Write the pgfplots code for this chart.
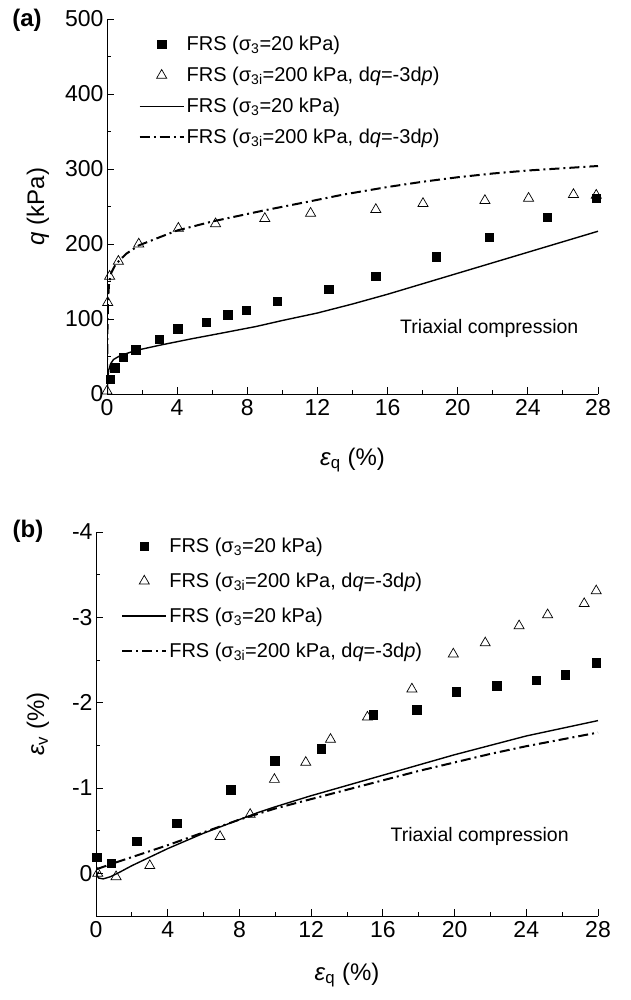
\documentclass[border=0pt]{standalone}
\usepackage{fontspec}
\setmainfont{Liberation Sans}
\usepackage{pgfplots}
\pgfplotsset{compat=1.18}
\begin{document}
\begin{tikzpicture}
\path[use as bounding box] (0pt,-1000pt) rectangle (630pt,0pt);
\pgfplotsset{
 common/.style={
   scale only axis, axis x line*=bottom, axis y line*=left,
   tick align=inside, major tick length=7pt, minor tick length=4pt,
   every tick/.style={black, line width=0.9pt},
   axis line style={line width=1pt},
   xmin=0,xmax=28, xtick={0,4,...,28}, minor x tick num=1,
   tick label style={font=\fontsize{23}{25}\selectfont},
   xticklabel style={yshift=-2pt},
   /pgf/number format/assume math mode=true,
   legend cell align=left,
   legend style={draw=none, fill=none, font=\fontsize{20}{22}\selectfont, anchor=north west},
   legend image code/.code={\draw[mark repeat=2,mark phase=2,##1] plot coordinates {(0pt,0pt) (22pt,0pt) (44pt,0pt)};},
 },
 sq/.style={only marks, mark=square*, mark size=4.2pt, black},
 tri/.style={only marks, mark=triangle, mark size=5.8pt, black, mark options={line width=0.7pt}},
 sol/.style={no marks, black, line width=1.4pt},
 dd/.style={no marks, black, line width=2pt, dash pattern=on 10pt off 4pt on 2pt off 4pt},
}
% ---------- panel (a)
\begin{axis}[common, at={(107pt,-394pt)}, anchor=south west,
  width=491pt, height=375pt,
  ymin=0, ymax=500, ytick={0,100,...,500}, minor y tick num=1,
  xlabel={\textit{ε}\textsubscript{q} (\%)},
  ylabel={\textit{q} (kPa)},
  every axis x label/.style={at={(axis description cs:0.5,-0.176)}, anchor=center, font=\fontsize{24}{26}\selectfont},
  every axis y label/.style={at={(axis description cs:-0.1405,0.5)}, anchor=center, rotate=90, font=\fontsize{24}{26}\selectfont},
  legend style={at={(axis description cs:0.058,0.965)}, row sep=11pt},
]
\addplot[sq] coordinates {
(0.19,19.5) (0.43,35) (0.93,49) (1.63,59) (2.96,73) (4.04,87) (5.67,96) (6.89,106)
(7.93,112) (9.69,124) (12.65,140) (15.33,157) (18.78,183) (21.8,209) (25.1,236) (27.9,261)};
\addlegendentry{FRS (σ\textsubscript{3}=20 kPa)}
\addplot[tri] coordinates {
(0.0,4) (0.04,122) (0.15,157) (0.65,177) (1.81,200) (4.07,221) (6.19,227) (9.0,234)
(11.61,241) (15.33,246) (18.02,254) (21.55,258) (24.04,261) (26.6,266) (27.9,265)};
\addlegendentry{FRS (σ\textsubscript{3i}=200 kPa, d\textit{q}=-3d\textit{p})}
\addplot[sol] coordinates {
(0,0) (0.02,10) (0.05,22) (0.1,32) (0.2,40) (0.37,46) (0.74,51) (1.63,58) (3,65)
(4.8,73.5) (6.5,81) (8.5,90) (10,98) (12,108) (14,120) (16,133) (18,147) (20,161)
(22,175) (24,189) (26,203) (28,217)};
\addlegendentry{FRS (σ\textsubscript{3}=20 kPa)}
\addplot[dd] coordinates {
(0,0) (0.01,40) (0.03,90) (0.06,125) (0.12,148) (0.25,162) (0.45,171) (0.7,178)
(1.1,187) (1.8,198) (3,209) (4,218) (6,230) (9,245) (11.6,257) (13.5,266) (16,276)
(18,283) (20,289) (22,294) (24,298) (26,301) (28,304)};
\addlegendentry{FRS (σ\textsubscript{3i}=200 kPa, d\textit{q}=-3d\textit{p})}
\node[font=\fontsize{19.5}{21}\selectfont] at (axis cs:21.8,87) {Triaxial compression};
\end{axis}
% ---------- panel (b)
\begin{axis}[common, at={(96pt,-916pt)}, anchor=south west,
  width=502pt, height=384pt,
  y dir=reverse, ymin=-4, ymax=0.5, ytick={-4,-3,-2,-1,0}, yticklabels={-4,-3,-2,-1,0},
  minor y tick num=1,
  xlabel={\textit{ε}\textsubscript{q} (\%)},
  ylabel={\textit{ε}\textsubscript{v} (\%)},
  every axis x label/.style={at={(axis description cs:0.5,-0.154)}, anchor=center, font=\fontsize{24}{26}\selectfont},
  every axis y label/.style={at={(axis description cs:-0.1155,0.5)}, anchor=center, rotate=90, font=\fontsize{24}{26}\selectfont},
  legend style={at={(axis description cs:0.044,0.995)}, row sep=15pt},
]
\addplot[sq] coordinates {
(0.05,-0.19) (0.85,-0.12) (2.28,-0.38) (4.5,-0.59) (7.52,-0.98) (9.96,-1.32) (12.55,-1.46)
(15.46,-1.86) (17.89,-1.92) (20.09,-2.13) (22.34,-2.20) (24.56,-2.26) (26.18,-2.33) (27.9,-2.47)};
\addlegendentry{FRS (σ\textsubscript{3}=20 kPa)}
\addplot[tri] coordinates {
(0.1,0.0) (1.12,0.04) (3.0,-0.09) (6.92,-0.43) (8.6,-0.69) (9.95,-1.10) (11.7,-1.30)
(13.08,-1.57) (15.14,-1.83) (17.62,-2.16) (19.93,-2.57) (21.71,-2.70) (23.6,-2.90)
(25.19,-3.03) (27.23,-3.16) (27.9,-3.31)};
\addlegendentry{FRS (σ\textsubscript{3i}=200 kPa, d\textit{q}=-3d\textit{p})}
\addplot[sol] coordinates {
(0.15,-0.02) (0.04,0.02) (0.15,0.055) (0.4,0.065) (0.8,0.04) (1.2,0.0) (2,-0.09) (3,-0.19)
(4,-0.29) (5,-0.38) (6,-0.47) (7,-0.55) (8,-0.63) (9,-0.71) (10,-0.78) (12,-0.91)
(14,-1.03) (16,-1.15) (18,-1.27) (20,-1.39) (22,-1.50) (24,-1.61) (26,-1.70) (28,-1.79)};
\addlegendentry{FRS (σ\textsubscript{3}=20 kPa)}
\addplot[dd] coordinates {
(0.05,-0.05) (1,-0.12) (2,-0.19) (4,-0.33) (6,-0.48) (8,-0.63) (10,-0.76) (12,-0.87)
(14,-0.98) (16,-1.09) (18,-1.20) (20,-1.30) (22,-1.40) (24,-1.49) (26,-1.57) (28,-1.65)};
\addlegendentry{FRS (σ\textsubscript{3i}=200 kPa, d\textit{q}=-3d\textit{p})}
\node[font=\fontsize{19.5}{21}\selectfont] at (axis cs:21.4,-0.43) {Triaxial compression};
\end{axis}
\node[font=\bfseries\fontsize{24}{26}\selectfont] at (27pt,-20pt) {(a)};
\node[font=\bfseries\fontsize{24}{26}\selectfont] at (28pt,-531pt) {(b)};
\end{tikzpicture}
\end{document}
